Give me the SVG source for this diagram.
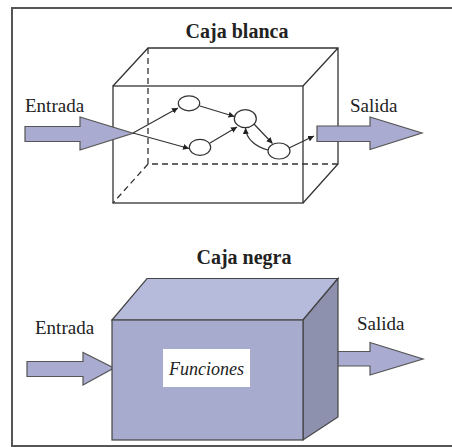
<svg xmlns="http://www.w3.org/2000/svg" width="452" height="447" viewBox="0 0 452 447">
  <defs>
    <style>
      .t { font-family: "Liberation Serif", "Times New Roman", serif; fill: #222; }
      .title { font-size: 20px; font-weight: bold; }
      .lbl { font-size: 19px; }
      .edge { fill: none; stroke: #333; stroke-width: 1.2; }
      .box { fill: none; stroke: #333; stroke-width: 1.3; }
      .dash { fill: none; stroke: #333; stroke-width: 1.3; stroke-dasharray: 6 4; }
      .node { fill: #fff; stroke: #333; stroke-width: 1.2; }
      .arrow { fill: #a9acd0; stroke: #555; stroke-width: 1.2; }
    </style>
    <marker id="ah" markerWidth="6" markerHeight="6" refX="6" refY="3" orient="auto" markerUnits="userSpaceOnUse">
      <path d="M0,0 L6,3 L0,6 z" fill="#222"/>
    </marker>
  </defs>

  <rect x="0" y="0" width="452" height="447" fill="#fff"/>
  <path d="M453,8 L12,8 L12,446 L453,446" fill="none" stroke="#555" stroke-width="2"/>

  <!-- Caja blanca -->
  <g id="caja-blanca">
    <text class="t title" x="237" y="38" text-anchor="middle">Caja blanca</text>
    <path class="dash" d="M148,48 L148,164 L338,164 M148,164 L113,203"/>
    <path class="box" d="M113,86 L148,48 L338,48 L338,164 L303,203 M303,86 L338,48"/>
    <rect class="box" x="113" y="86" width="190" height="117"/>
  </g>

  <g id="entrada-blanca">
    <text class="t lbl" x="25" y="112">Entrada</text>
    <path class="arrow" d="M25,126.5 L80,126.5 L80,117 L133,133.3 L80,150 L80,141.5 L25,141.5 z"/>
  </g>
  <g id="salida-blanca">
    <text class="t lbl" x="350" y="112">Salida</text>
    <path class="arrow" d="M317,126 L370,126 L370,117 L422,133 L370,149.5 L370,141.5 L317,141.5 z"/>
  </g>

  <g id="connectors">
    <path class="edge" d="M133,133 L178,108" marker-end="url(#ah)"/>
    <path class="edge" d="M133,133 L189,148.5" marker-end="url(#ah)"/>
    <path class="edge" d="M200,106 L234.5,116.5" marker-end="url(#ah)"/>
    <path class="edge" d="M210,143 L237,127" marker-end="url(#ah)"/>
    <path class="edge" d="M254,124 L272.5,143.5" marker-end="url(#ah)"/>
    <path class="edge" d="M268,150 C256,147 246,139 245.5,128" marker-end="url(#ah)"/>
    <path class="edge" d="M289,148 L314,136" marker-end="url(#ah)"/>
  </g>

  <g id="n1"><ellipse class="node" cx="189" cy="103.3" rx="10.7" ry="7.5"/></g>
  <g id="n2"><ellipse class="node" cx="200" cy="147.3" rx="10.7" ry="8"/></g>
  <g id="n3"><ellipse class="node" cx="245.3" cy="118.7" rx="11" ry="9"/></g>
  <g id="n4"><ellipse class="node" cx="279" cy="151" rx="11" ry="8"/></g>

  <!-- Caja negra -->
  <g id="entrada-negra">
    <text class="t lbl" x="35" y="334" font-size="18.5">Entrada</text>
    <path class="arrow" d="M27,361.5 L83,361.5 L83,352.5 L114,368 L83,385 L83,376.5 L27,376.5 z"/>
  </g>
  <g id="salida-negra">
    <text class="t lbl" x="357" y="330" font-size="18.5">Salida</text>
    <path class="arrow" d="M320,351.5 L370,351.5 L370,342.5 L423,359 L370,375 L370,366 L320,366 z"/>
  </g>

  <g id="caja-negra">
    <text class="t title" x="244" y="264" text-anchor="middle">Caja negra</text>
    <path d="M112,320 L147,278.5 L338,278.5 L303,320 z" fill="#b6badb" stroke="#444" stroke-width="1.2"/>
    <path d="M303,320 L338,278.5 L338,417 L303,440 z" fill="#8e91ad" stroke="#444" stroke-width="1.2"/>
    <rect x="112" y="320" width="191" height="120" fill="#a7abcd" stroke="#444" stroke-width="1.2"/>
    <rect x="163" y="349" width="87" height="38" fill="#fff"/>
    <text class="t" x="206.5" y="375" font-size="18" font-style="italic" text-anchor="middle">Funciones</text>
  </g>
</svg>
